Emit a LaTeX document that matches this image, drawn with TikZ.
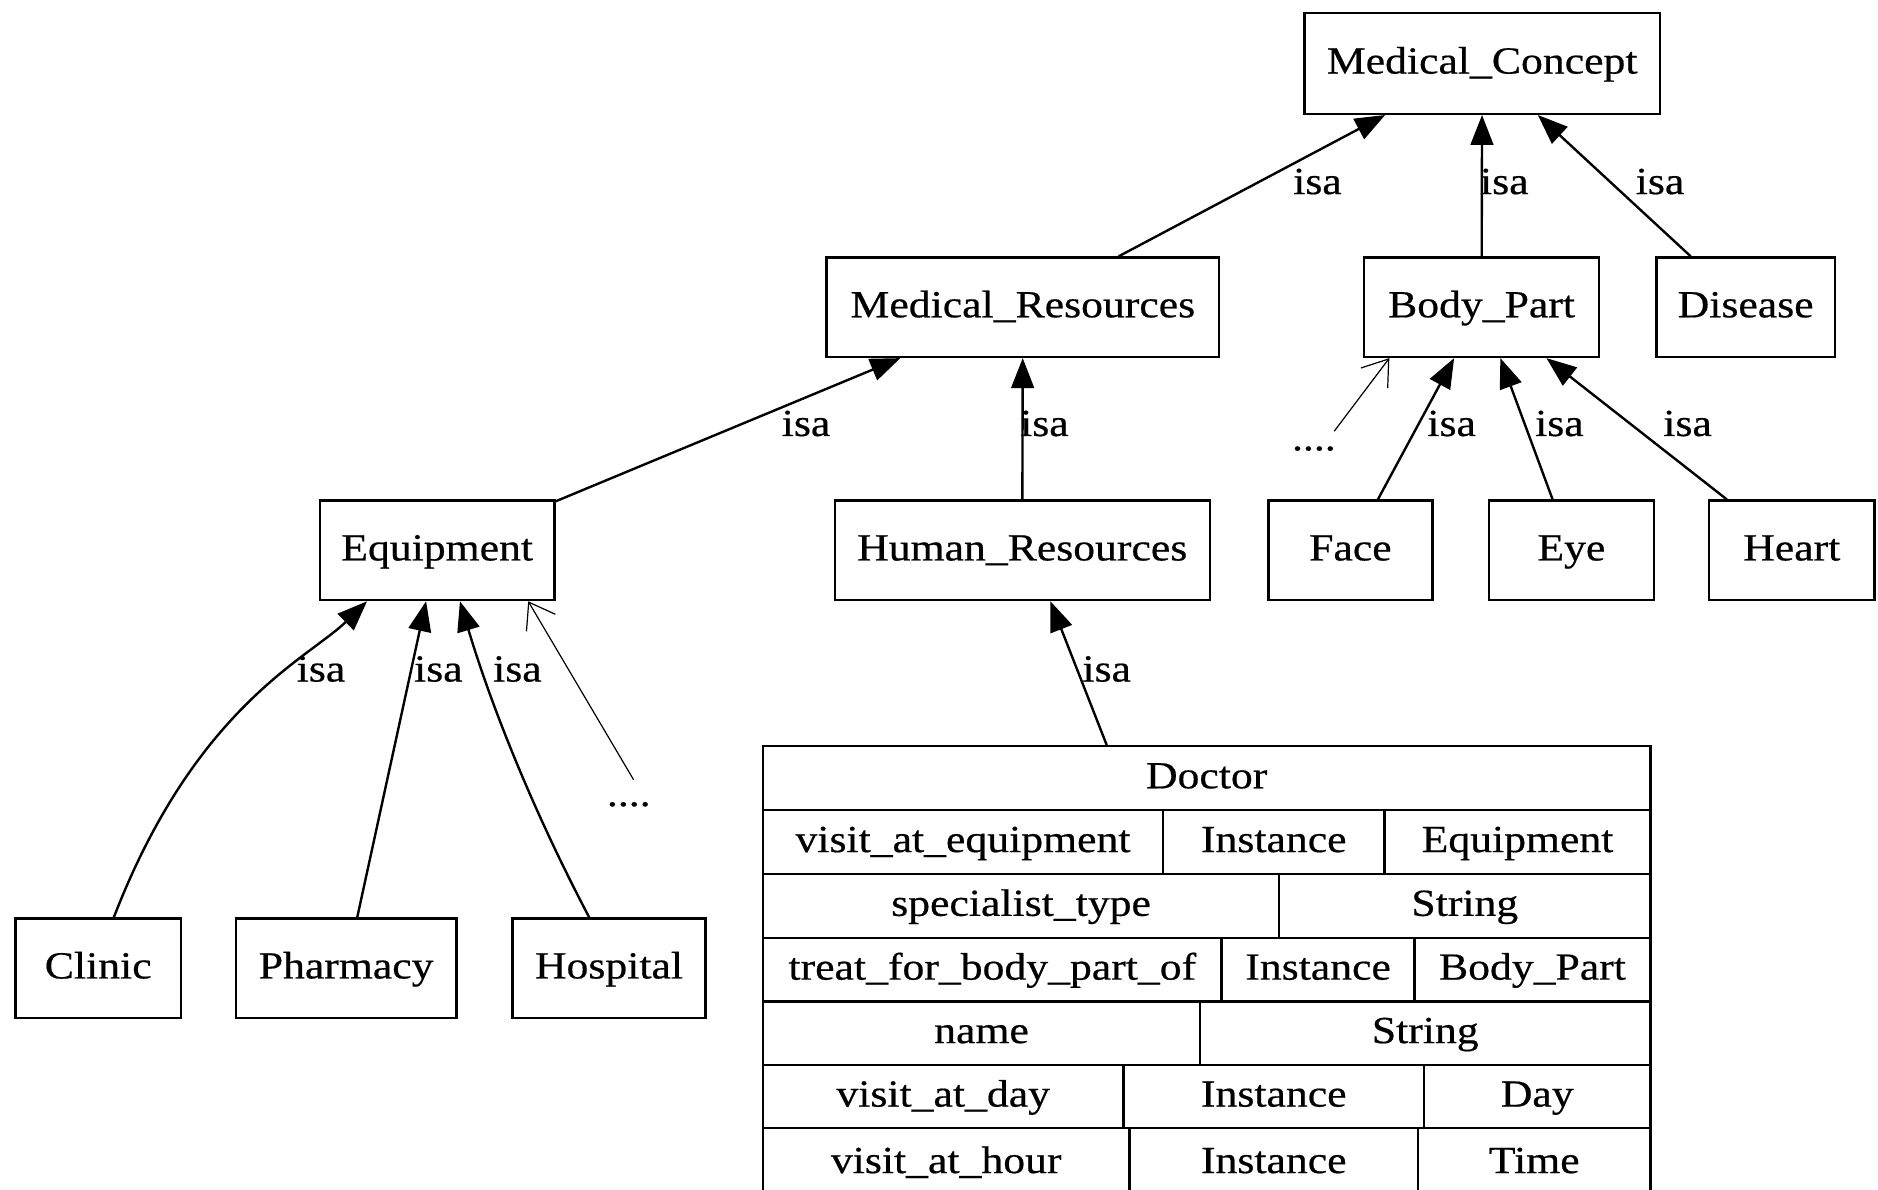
\documentclass[tikz,border=0pt]{standalone}
\usepackage{fontspec}
\setmainfont{Liberation Serif}[FakeStretch=1.14,FakeBold=0.5]
\usetikzlibrary{arrows.meta,calc}

\tikzset{
  txt/.style={font=\fontsize{16}{19}\selectfont},
  box/.style={txt, draw, line width=1pt, inner sep=0pt, minimum height=41.5pt,
              text height=11.5pt, text depth=3.1pt},
  tcell/.style={txt, draw, line width=1pt, inner sep=0pt,
                text height=11.5pt, text depth=3.1pt},
  isa/.style={line width=1pt, -{Triangle[length=12.5pt,width=9.5pt]}},
  more/.style={line width=0.5pt, -{Straight Barb[length=10pt,width=14pt,line width=0.5pt]}},
  lbl/.style={txt, inner sep=0pt, anchor=base},
}

% table cell: name, left, right, top, bottom, text
\newcommand\tcell[6]{%
  \node[tcell, minimum width={(#3-#2)*0.5pt}, minimum height={(#5-#4)*0.5pt}]
    (#1) at ({(#2+#3)/2},{(#4+#5)/2}) {#6};}

\begin{document}
\begin{tikzpicture}[x=0.5pt,y=-0.5pt]
\useasboundingbox (0,0) rectangle (1568,993);
\fill[white] (0,0) rectangle (1568,993);
\clip (0,0) rectangle (1568,993);

% concept boxes
\node[box, minimum width=148.5pt, minimum height=42pt] (mc) at (1237.5,53) {Medical\_Concept};
\node[box, minimum width=164pt] (mr)    at (854,256.5)   {Medical\_Resources};
\node[box, minimum width=98pt]  (bp)    at (1237,256.5)  {Body\_Part};
\node[box, minimum width=74.5pt](dis)   at (1457.5,256.5){Disease};
\node[box, minimum width=98pt]  (eq)    at (365,459.5)   {Equipment};
\node[box, minimum width=156.5pt](hr)   at (853.5,459.5) {Human\_Resources};
\node[box, minimum width=68.5pt](face)  at (1127.5,459.5){Face};
\node[box, minimum width=69pt]  (eye)   at (1312,459.5)  {Eye};
\node[box, minimum width=69pt]  (heart) at (1496,459.5)  {Heart};
\node[box, minimum width=69pt]  (clinic) at (82,808.5)   {Clinic};
\node[box, minimum width=92pt]  (pharm) at (289,808.5)   {Pharmacy};
\node[box, minimum width=80.5pt](hosp)  at (508.5,808.5) {Hospital};

% Doctor record table
\tcell{doctor}{637}{1378}{623}{676.5}{Doctor}
\tcell{a1}{637}{971}{676.5}{729.5}{visit\_at\_equipment}
\tcell{b1}{971}{1156}{676.5}{729.5}{Instance}
\tcell{c1}{1156}{1378}{676.5}{729.5}{Equipment}
\tcell{a2}{637}{1068}{729.5}{783}{specialist\_type}
\tcell{b2}{1068}{1378}{729.5}{783}{String}
\tcell{a3}{637}{1020}{783}{836}{treat\_for\_body\_part\_of}
\tcell{b3}{1020}{1181}{783}{836}{Instance}
\tcell{c3}{1181}{1378}{783}{836}{Body\_Part}
\tcell{a4}{637}{1002}{836}{889}{name}
\tcell{b4}{1002}{1378}{836}{889}{String}
\tcell{a5}{637}{938}{889}{942}{visit\_at\_day}
\tcell{b5}{938}{1189}{889}{942}{Instance}
\tcell{c5}{1189}{1378}{889}{942}{Day}
\tcell{a6}{637}{943}{942}{1000}{visit\_at\_hour}
\tcell{b6}{943}{1184}{942}{1000}{Instance}
\tcell{c6}{1184}{1378}{942}{1000}{Time}

% isa links
\draw[isa] (mr) -- (mc);
\draw[isa] (bp) -- (mc);
\draw[isa] (dis) -- (mc);
\draw[isa] (eq) -- (mr);
\draw[isa] (hr) -- (mr);
\draw[isa] (face) -- (bp);
\draw[isa] (eye) -- (bp);
\draw[isa] (heart) -- (bp);
\draw[isa] ($(doctor.north west)+(288,0)$) -- ($(hr.south)+(23.5,0)$);
\draw[isa] ($(clinic.north)+(13,0)$) .. controls (163,590) and (257,550) .. ($(eq.south west)+(40.5,0)$);
\draw[isa] (pharm) -- (eq);
\draw[isa] ($(hosp.north)+(-16.5,0)$) .. controls (447.4,681.5) and (411.4,593.5) .. ($(eq.south)+(19,0)$);

% isa labels
\node[lbl] (l1)  at (1100,162) {isa};
\node[lbl] (l2)  at (1256,162) {isa};
\node[lbl] (l3)  at (1386,162) {isa};
\node[lbl] (l4)  at (673,364)  {isa};
\node[lbl] (l5)  at (872,364)  {isa};
\node[lbl] (l6)  at (1212,364) {isa};
\node[lbl] (l7)  at (1302,364) {isa};
\node[lbl] (l8)  at (1409,364) {isa};
\node[lbl] (l9)  at (924,569)  {isa};
\node[lbl] (l10) at (268,569)  {isa};
\node[lbl] (l11) at (366,569)  {isa};
\node[lbl] (l12) at (432,569)  {isa};

% further, unnamed subclasses
\node[lbl] (eqmore) at (525,673) {....};
\node[lbl] (bpmore) at (1097,376) {....};
\draw[more] ($(eqmore.base)+(4,-22)$) -- ($(eq.south east)+(-23,0)$);
\draw[more] ($(bpmore.base)+(17,-16)$) -- ($(bp.south west)+(22,0)$);
\end{tikzpicture}
\end{document}
